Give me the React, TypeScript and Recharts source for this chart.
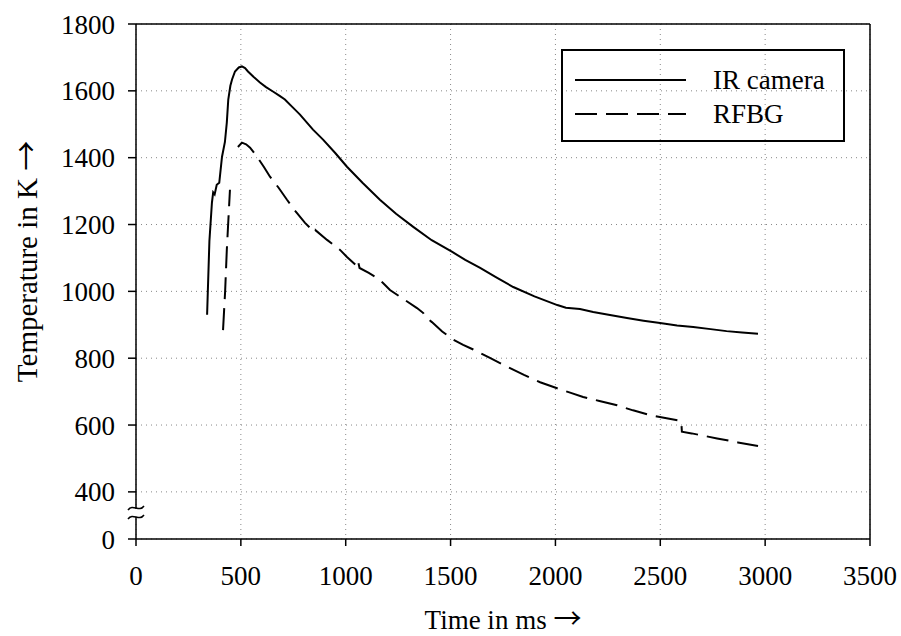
import React from "react";
import { CartesianGrid, Legend, Line, LineChart, ReferenceLine, XAxis, YAxis } from "recharts";

const FONT = '"Liberation Serif", "Times New Roman", serif';
const ARROW_FONT = '"Noto Sans CJK JP", "DejaVu Serif", serif';

// tick labels
const TIME_TICKS = [0, 500, 1000, 1500, 2000, 2500, 3000, 3500];
const TEMP_TICKS = [0, 400, 600, 800, 1000, 1200, 1400, 1600, 1800];
// the axis is broken between 0 and 400; "0" sits where 259 K would be
const AXIS_ZERO = 259;

// IR camera
const IR_T = [339, 350, 362, 368, 375, 385, 397, 410, 424, 433, 440, 450, 458, 472, 490, 505, 520, 534, 560, 591, 620, 653, 685, 710, 745, 782, 844, 892, 950, 1006, 1080, 1163, 1240, 1322, 1410, 1508, 1570, 1641, 1720, 1799, 1900, 2009, 2050, 2117, 2180, 2260, 2341, 2420, 2499, 2580, 2657, 2740, 2816, 2890, 2966];
const IR_K = [930, 1150, 1265, 1296, 1290, 1319, 1325, 1402, 1447, 1505, 1574, 1615, 1634, 1658, 1670, 1673, 1668, 1658, 1642, 1625, 1611, 1598, 1585, 1574, 1552, 1529, 1484, 1454, 1414, 1373, 1325, 1274, 1232, 1193, 1153, 1118, 1094, 1070, 1041, 1013, 985, 959, 951, 947, 938, 929, 920, 912, 905, 898, 893, 887, 881, 877, 873];

// RFBG (null = gap in the trace)
const RFBG_T = [415, 425, 433, 448, 465, 486, 505, 525, 544, 577, 610, 639, 680, 720, 760, 806, 830, 840, 854, 911, 973, 1006, 1050, 1058, 1066, 1110, 1149, 1178, 1211, 1280, 1340, 1370, 1378, 1411, 1460, 1512, 1560, 1608, 1690, 1768, 1850, 1927, 2008, 2070, 2132, 2210, 2294, 2370, 2451, 2530, 2600, 2603, 2650, 2771, 2870, 2966];
const RFBG_K = [884, 1000, 1124, 1304, null, 1432, 1445, 1440, 1430, 1403, 1372, 1343, 1310, 1274, 1240, 1205, 1190, 1178, 1184, 1154, 1124, 1103, 1078, 1092, 1070, 1055, 1040, 1025, 1004, 975, 950, 935, 925, 908, 880, 856, 840, 826, 800, 775, 750, 728, 710, 697, 684, 672, 659, 644, 630, 620, 612, 580, 575, 560, 548, 537];

const irData = IR_T.map((t, i) => ({ t, k: IR_K[i] }));
const rfbgData = RFBG_T.map((t, i) => ({ t, k: RFBG_K[i] }));

const SERIES = [
  { name: "IR camera", data: irData, dash: undefined },
  { name: "RFBG", data: rfbgData, dash: "22 9" },
];

const Y_TICK_SIZE = 8;
const Y_TICK_MARGIN = 13;

function TempTick(props: any) {
  const { x, y, payload } = props;
  const isZero = payload.value === AXIS_ZERO;
  const ax = x + Y_TICK_SIZE + Y_TICK_MARGIN;
  const wave = (yy: number) => `M${ax - 8},${yy + 2} C${ax - 3},${yy - 5} ${ax + 3},${yy + 5} ${ax + 8},${yy - 2}`;
  return (
    <g>
      {isZero && (
        <g>
          <rect x={ax - 3} y={y - 30} width={6} height={8} fill="#fff" />
          <path d={wave(y - 31)} stroke="#000" strokeWidth={1.5} fill="none" />
          <path d={wave(y - 22)} stroke="#000" strokeWidth={1.5} fill="none" />
        </g>
      )}
      <text x={x} y={y} dy="0.355em" textAnchor="end" fontFamily={FONT} fontSize={27} fill="#000">
        {isZero ? 0 : payload.value}
      </text>
    </g>
  );
}

function LegendBox() {
  return (
    <div
      style={{
        width: 284,
        height: 93,
        border: "2px solid #000",
        boxSizing: "border-box",
        position: "relative",
        fontFamily: FONT,
        fontSize: 27,
        color: "#000",
      }}
    >
      {SERIES.map((s, i) => (
        <div
          key={s.name}
          style={{ position: "absolute", left: 12, top: 17 + i * 34, height: 24, display: "flex", alignItems: "center", lineHeight: 1 }}
        >
          <svg width={111} height={4} style={{ display: "block" }}>
            <line x1={0} y1={2} x2={111} y2={2} stroke="#000" strokeWidth={2} strokeDasharray={s.dash} />
          </svg>
          <span style={{ marginLeft: 27 }}>{s.name}</span>
        </div>
      ))}
    </div>
  );
}

export default function App() {
  return (
    <div style={{ position: "absolute", left: 0, top: 0 }}>
      <LineChart width={901} height={636} margin={{ top: 24, right: 31, left: 0, bottom: 0 }}>
        <CartesianGrid stroke="#888" strokeDasharray="1 4" />
        <XAxis
          dataKey="t"
          type="number"
          domain={[0, 3500]}
          ticks={TIME_TICKS}
          height={97}
          tickSize={7}
          tickMargin={20}
          stroke="#000"
          strokeWidth={1.5}
          tick={{ fill: "#000", fontFamily: FONT, fontSize: 27 }}
          allowDataOverflow
          label={{
            content: (p: any) => {
              const vb = p.viewBox;
              return (
                <text x={vb.x + vb.width / 2} y={vb.y + 90} textAnchor="middle" fontFamily={FONT} fontSize={27} fill="#000">
                  Time in ms <tspan fontFamily={ARROW_FONT} fontSize={28}>→</tspan>
                </text>
              );
            },
          }}
        />
        <YAxis
          type="number"
          domain={[AXIS_ZERO, 1800]}
          ticks={TEMP_TICKS.map((v) => (v === 0 ? AXIS_ZERO : v))}
          width={136}
          tickSize={Y_TICK_SIZE}
          tickMargin={Y_TICK_MARGIN}
          stroke="#000"
          strokeWidth={1.5}
          tick={<TempTick />}
          allowDataOverflow
          label={{
            content: (p: any) => {
              const vb = p.viewBox;
              const cx = vb.x + 37;
              const cy = vb.y + vb.height / 2 - 20;
              return (
                <text x={cx} y={cy} transform={`rotate(-90 ${cx} ${cy})`} textAnchor="middle" fontFamily={FONT} fontSize={29} fill="#000">
                  Temperature in K <tspan fontFamily={ARROW_FONT} fontSize={30}>→</tspan>
                </text>
              );
            },
          }}
        />
        <ReferenceLine y={1800} stroke="#000" strokeWidth={1.5} />
        <ReferenceLine x={3500} stroke="#000" strokeWidth={1.5} />
        {SERIES.map((s) => (
          <Line
            key={s.name}
            name={s.name}
            data={s.data}
            dataKey="k"
            type="linear"
            stroke="#000"
            strokeWidth={2}
            strokeDasharray={s.dash}
            dot={false}
            isAnimationActive={false}
          />
        ))}
        <Legend
          layout="vertical"
          align="center"
          verticalAlign="middle"
          content={() => <LegendBox />}
          wrapperStyle={{ left: 561, top: 49, width: 284, height: 93 }}
        />
      </LineChart>
    </div>
  );
}
